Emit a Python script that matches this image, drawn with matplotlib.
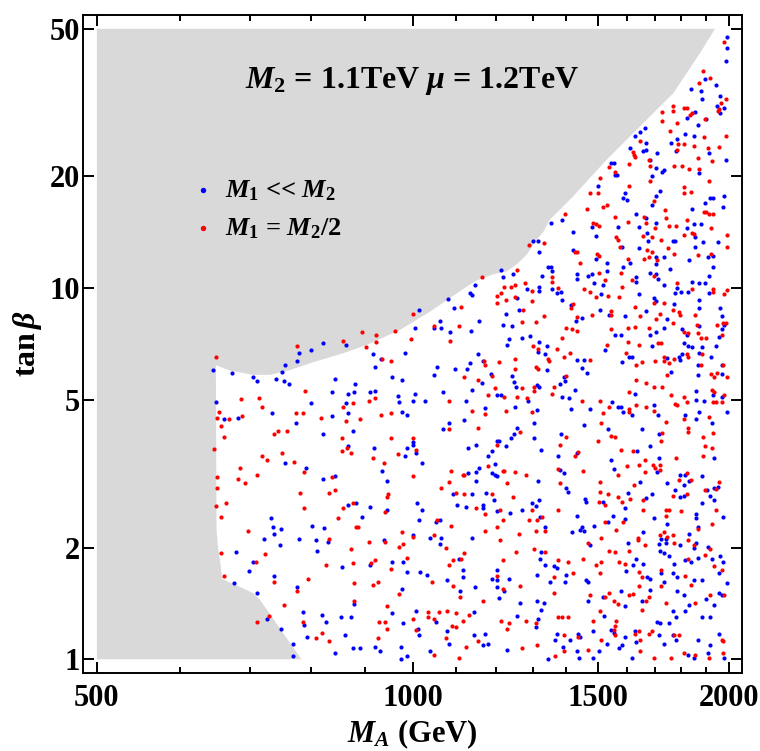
import matplotlib
matplotlib.use("Agg")
import matplotlib.pyplot as plt

plt.rcParams['font.family'] = ['Liberation Serif', 'DejaVu Serif']
plt.rcParams['font.weight'] = 'bold'
plt.rcParams['mathtext.fontset'] = 'custom'
plt.rcParams['mathtext.rm'] = 'Liberation Serif:bold'
plt.rcParams['mathtext.it'] = 'Liberation Serif:italic:bold'
plt.rcParams['mathtext.bf'] = 'Liberation Serif:bold'

# edge of the excluded (grey) region, from tanb=1 up to tanb=50
edge_MA = [783, 752, 726, 715, 704, 684, 658, 655, 652, 650, 649, 650, 669, 704, 731,
           764, 798, 858, 903, 972, 1038, 1084, 1125, 1150, 1192, 1228, 1255, 1283,
           1311, 1331, 1350, 1421, 1529, 1645, 1769, 1876, 1939]
edge_tanb = [1.0, 1.177, 1.358, 1.445, 1.509, 1.567, 1.646, 1.852, 2.008, 2.23, 6.21,
             6.19, 6.0, 5.84, 5.84, 6.02, 6.28, 6.68, 7.03, 7.72, 8.65, 9.40, 10.1, 10.5,
             10.9, 11.1, 11.6, 12.3, 13.5, 14.2, 15.3, 17.7, 22.2, 27.3, 33.5, 43.0, 50.0]

# scan points (M_A in GeV, tan beta), M1 << M2
blue_pts = [
    (1992, 47.4), (1992, 44.4), (1986, 41.0), (1895, 36.7), (1839, 34.5), (1879, 33.9), (1943, 35.2),
    (1884, 32.3), (1961, 32.9), (1949, 31.0), (1961, 29.6), (1978, 30.6), (1857, 29.9), (1822, 28.7),
    (1901, 28.6), (1868, 27.5), (1662, 27.0), (1646, 26.3), (1628, 25.7), (1667, 24.6), (1817, 26.1),
    (1850, 25.7), (1783, 25.3), (1760, 24.6), (1781, 23.5), (1610, 23.9), (1657, 23.4), (1668, 23.6),
    (1708, 23.1), (1915, 23.1), (1984, 22.2), (1733, 20.8), (1728, 20.6), (1703, 21.1), (1543, 21.8),
    (1553, 21.8), (1558, 20.2), (1564, 20.2), (1688, 20.0), (1681, 22.2), (1872, 20.5), (1500, 18.9),
    (1592, 18.0), (1586, 17.5), (1597, 17.3), (1720, 18.3), (1704, 17.7), (1687, 16.8), (1917, 17.5),
    (1932, 17.5), (1895, 17.0), (1978, 17.7), (1971, 16.5), (1843, 16.3), (1631, 15.8), (1668, 15.5),
    (1704, 15.0), (1850, 14.9), (1879, 14.9), (1353, 15.0), (1386, 15.3),
    (1300, 13.4), (1316, 13.4), (1319, 12.5), (1214, 11.2), (1219, 10.7), (1245, 10.9), (1146, 10.2),
    (1132, 9.68), (1139, 9.58), (1079, 9.38), (1094, 8.82), (1014, 8.74), (1226, 8.5), (1156, 8.17),
    (1062, 8.17), (1261, 8.74), (1255, 9.43), (1284, 9.98), (1319, 10.1), (1319, 9.8), (1219, 7.96),
    (1241, 7.9), (1005, 7.8), (1048, 7.8), (1064, 7.8), (1084, 7.6), (1136, 7.67), (1269, 7.36),
    (1292, 7.42), (1319, 7.17), (1233, 7.28), (1229, 7.05), (1316, 6.75), (983, 6.68), (1153, 6.63),
    (1165, 6.38), (1132, 6.28), (1126, 6.07), (1097, 6.07), (1055, 6.13), (1186, 5.88), (1164, 5.56),
    (1139, 5.33), (1048, 5.83), (976, 5.66), (1243, 5.81), (1247, 5.58), (1252, 5.42), (1319, 5.42),
    (1312, 5.48), (1201, 5.14), (1212, 5.14), (1288, 4.97), (1251, 4.78), (1312, 4.71), (1304, 4.33),
    (1171, 4.76), (1068, 5.24), (1124, 4.96), (1118, 4.41), (1081, 4.33), (1068, 4.17), (1004, 5.18),
    (1001, 4.97), (1027, 4.97), (977, 4.64), (986, 4.55), (1257, 4.20), (1239, 3.94), (1247, 4.04),
    (1305, 3.94),
    (1420, 14.2), (1479, 14.6), (1568, 14.6), (1641, 14.6), (1822, 14.5), (1951, 13.3), (1890, 13.3),
    (1854, 13.7), (1854, 12.9), (1777, 13.4), (1767, 13.4), (1670, 14.1), (1673, 13.4), (1582, 12.9),
    (1493, 13.8), (1421, 12.7), (1493, 12.0), (1529, 11.7), (1610, 11.7), (1642, 12.8), (1704, 12.1),
    (1703, 11.6), (1735, 12.1), (1757, 11.3), (1682, 11.0), (1704, 10.9), (1711, 10.6), (1631, 10.7),
    (1631, 10.4), (1586, 11.4), (1529, 11.1), (1479, 10.9), (1469, 10.8), (1488, 10.3), (1516, 10.2),
    (1433, 10.9), (1434, 10.6), (1343, 11.4), (1353, 11.4), (1357, 11.1), (1328, 10.8), (1357, 9.96),
    (1370, 9.68), (1383, 9.76), (1387, 9.3), (1511, 9.62), (1641, 9.62), (1697, 9.39), (1704, 9.21),
    (1735, 10.2), (1783, 10.0), (1800, 9.76), (1827, 9.76), (1777, 9.68), (1873, 10.3), (1895, 10.3),
    (1845, 10.4), (1915, 9.68), (1914, 10.8), (1873, 9.30), (1773, 9.06), (1746, 8.25), (1667, 8.69),
    (1591, 8.39), (1538, 8.49), (1507, 8.76), (1413, 8.99), (1430, 8.17), (1447, 8.32), (1341, 6.99),
    (1337, 6.64), (1341, 6.02), (1434, 6.4), (1455, 6.4), (1447, 6.08), (1465, 5.9), (1391, 5.76),
    (1396, 5.61), (1379, 5.52), (1425, 5.33), (1387, 5.1), (1408, 5.06), (1413, 4.72), (1474, 4.72),
    (1548, 4.94), (1567, 4.77), (1576, 4.77), (1586, 4.63), (1617, 4.55), (1627, 5.19), (1606, 6.51),
    (1616, 6.51), (1582, 6.34), (1523, 6.8), (1558, 7.47), (1578, 7.47), (1682, 7.47), (1704, 7.62),
    (1735, 7.8), (1687, 6.99), (1805, 7.74), (1822, 7.47), (1811, 7.1), (1827, 6.99), (1873, 7.89),
    (1873, 8.82), (1961, 8.82), (1967, 8.39), (1978, 7.96), (1967, 7.75), (1956, 7.41), (1943, 6.99),
    (1886, 6.94), (1873, 6.67), (1921, 6.51), (1868, 6.22), (1967, 6.19), (1967, 5.87), (1868, 5.83),
    (1843, 6.94), (1805, 6.64), (1790, 6.51), (1795, 6.4), (1761, 5.96), (1745, 6.49), (1861, 5.28),
    (1861, 5.01), (1891, 4.98), (1931, 5.14), (1967, 5.1), (1992, 4.63), (1695, 4.85), (1711, 4.54),
    (1652, 4.17), (1714, 4.05), (1817, 4.55), (1861, 4.44), (1873, 4.63), (1926, 4.34), (1383, 4.04),
    (1456, 4.29), (1535, 4.17), (1908, 12.1), (1929, 12.2), (1930, 11.4), (1832, 11.9),
    (820, 7.1), (863, 7.04), (800, 6.82), (778, 6.68), (916, 6.64), (932, 6.45), (776, 6.38),
    (919, 6.14), (645, 6.02), (673, 5.92), (756, 6.19), (750, 5.96), (704, 5.76), (711, 5.62),
    (741, 5.71), (754, 5.62), (762, 5.53), (843, 5.71), (880, 5.53), (837, 5.24), (867, 5.19),
    (878, 5.24), (910, 5.24), (919, 5.28), (955, 5.76), (968, 5.11), (970, 4.94), (649, 4.94),
    (661, 4.44), (682, 4.48), (734, 4.6), (799, 4.9), (863, 4.9), (837, 4.52), (867, 4.6),
    (774, 4.34), (876, 4.13), (820, 4.05), (868, 3.76), (918, 3.71), (756, 3.37), (790, 3.28),
    (843, 3.12), (820, 3.06), (935, 3.22), (944, 3.03), (944, 2.53), (732, 2.4), (735, 2.27),
    (749, 2.25), (738, 2.18), (721, 2.11), (747, 2.03), (802, 2.29), (823, 2.26), (867, 2.61),
    (882, 2.63), (909, 2.57), (894, 2.42), (778, 2.11), (808, 2.09), (830, 2.07), (811, 1.96),
    (939, 2.09), (678, 1.95), (704, 1.83), (698, 1.73), (737, 1.68), (675, 1.61), (855, 1.77),
    (910, 1.80), (955, 1.83), (776, 1.57), (711, 1.51), (726, 1.28), (748, 1.21), (769, 1.10),
    (769, 1.02), (785, 1.34), (787, 1.24), (792, 1.15), (819, 1.32), (827, 1.26), (843, 1.04),
    (853, 1.30), (861, 1.16), (873, 1.30), (879, 1.41), (876, 1.07), (891, 1.07), (955, 1.33),
    (919, 1.08), (930, 1.05),
    (1001, 3.85), (1001, 3.78), (986, 3.71), (982, 3.54), (1007, 3.60), (1019, 3.39), (1129, 3.71),
    (1149, 3.79), (1201, 3.88), (1207, 3.88), (1227, 3.76), (1325, 3.67), (1375, 3.54), (1189, 3.64),
    (1178, 3.52), (1196, 3.36), (1156, 3.28), (1147, 3.2), (1129, 3.17), (1189, 3.17), (1196, 3.14),
    (1203, 3.12), (1148, 3.03), (1314, 3.03), (1379, 3.23), (1391, 3.17), (1400, 2.9), (1404, 2.82),
    (1091, 2.78), (1139, 2.78), (1174, 2.8), (1193, 2.68), (1102, 2.61), (1124, 2.57), (1166, 2.61),
    (1166, 2.55), (1203, 2.51), (1236, 2.48), (1271, 2.53), (1297, 2.63), (1309, 2.59), (1318, 2.68),
    (1008, 2.63), (1019, 2.53), (1013, 2.38), (1052, 2.34), (1062, 2.38), (1320, 2.42), (1337, 2.27),
    (1038, 2.12), (1064, 2.12), (1000, 2.16), (1061, 2.05), (1138, 2.12), (1105, 1.86), (979, 1.83),
    (986, 1.72), (1016, 1.72), (1032, 1.69), (977, 1.55), (1115, 1.74), (1115, 1.67), (1078, 1.64),
    (1108, 1.53), (1146, 1.57), (1189, 1.65), (1201, 1.64), (1203, 1.74), (1233, 1.65), (1201, 1.57),
    (1222, 1.53), (1207, 1.46), (1320, 1.86), (1337, 1.80), (1362, 1.78), (1370, 1.76), (1400, 1.69),
    (1395, 1.62), (1349, 1.62), (1312, 1.69), (1325, 1.36), (1311, 1.44), (1332, 1.42), (1316, 1.28),
    (1309, 1.22), (1257, 1.31), (1265, 1.42), (1371, 1.17), (1366, 1.13), (1389, 1.08), (1345, 1.0),
    (1228, 1.06), (1178, 1.10), (1166, 1.09), (1171, 1.17), (1143, 1.16), (1081, 1.10), (1078, 1.19),
    (1143, 1.34), (1052, 1.26), (1006, 1.35), (979, 1.25), (1010, 1.21), (1013, 1.16), (1038, 1.05),
    (975, 1.08), (986, 1.02), (975, 1.0), (1325, 1.95),
    (1682, 3.76), (1936, 3.48), (1635, 3.64), (1433, 3.59), (1543, 3.45), (1713, 3.48), (1708, 3.20),
    (1552, 3.25), (1645, 3.0), (1794, 3.14), (1817, 3.14), (1833, 3.03), (1886, 3.12), (1811, 2.95),
    (1746, 2.98), (1777, 2.85), (1811, 2.75), (1794, 2.73), (1950, 2.92), (1935, 2.90), (1904, 2.85),
    (1919, 2.75), (1936, 2.68), (1886, 2.63), (1971, 2.42), (1861, 2.46), (1861, 2.40), (1868, 2.27),
    (1687, 2.78), (1668, 2.72), (1592, 2.55), (1601, 2.80), (1516, 2.66), (1457, 2.71), (1461, 2.66),
    (1434, 2.44), (1488, 2.29), (1447, 2.27), (1443, 2.23), (1456, 2.22), (1417, 2.20), (1535, 2.35),
    (1549, 2.44), (1592, 2.39), (1695, 2.40), (1746, 2.31), (1475, 2.03), (1657, 2.20), (1601, 2.06),
    (1724, 2.11), (1740, 2.11), (1740, 2.06), (1713, 2.05), (1794, 2.03), (1833, 2.17), (1861, 2.06),
    (1850, 2.00), (1908, 2.01), (1631, 1.86), (1620, 1.80), (1657, 1.81), (1595, 1.73), (1719, 1.96),
    (1735, 1.93), (1751, 1.90), (1772, 1.81), (1724, 1.71), (1767, 1.71), (1785, 1.67), (1817, 1.85),
    (1839, 1.83), (1868, 1.88), (1926, 1.86), (1961, 1.90), (1971, 1.83), (1956, 1.71), (1885, 1.64),
    (1850, 1.64), (1992, 1.61), (1461, 1.64), (1469, 1.62), (1672, 1.67), (1682, 1.65), (1735, 1.62),
    (1682, 1.54), (1785, 1.53), (1811, 1.49), (1833, 1.40), (1902, 1.45), (1956, 1.51), (1967, 1.49),
    (1936, 1.40), (1816, 1.35), (1767, 1.35), (1779, 1.30), (1885, 1.30), (1919, 1.30), (1651, 1.44),
    (1593, 1.39), (1578, 1.53), (1516, 1.47), (1469, 1.44), (1520, 1.31), (1543, 1.20), (1553, 1.18),
    (1483, 1.19), (1435, 1.17), (1443, 1.15), (1412, 1.13), (1529, 1.10), (1434, 1.05), (1502, 1.05),
    (1438, 1.01), (1484, 1.01), (1592, 1.15), (1572, 1.07), (1582, 1.09), (1627, 1.19), (1631, 1.11),
    (1616, 1.01), (1708, 1.26), (1719, 1.25), (1751, 1.25), (1713, 1.16), (1735, 1.10), (1767, 1.16),
    (1779, 1.13), (1827, 1.03), (1850, 1.01), (1866, 1.13), (1908, 1.04), (1919, 1.09), (1978, 1.01),
    (1956, 1.17),
]

# scan points, M1 = M2/2
red_pts = [
    (1978, 46.1), (1890, 38.4), (1919, 36.9), (1873, 35.8), (1986, 32.3), (1963, 31.5), (1956, 30.4),
    (1953, 30.1), (1767, 31.0), (1767, 30.1), (1726, 29.9), (1811, 30.6), (1822, 30.6), (1834, 29.3),
    (1845, 29.6), (1897, 28.5), (1726, 28.2), (1783, 27.8), (1757, 26.6), (1891, 25.5), (1984, 25.7),
    (1645, 25.0), (1620, 23.3), (1624, 22.9), (1628, 22.6), (1676, 22.2), (1682, 21.4), (1606, 21.6),
    (1811, 24.4), (1786, 24.4), (1850, 24.2), (1908, 23.8), (1954, 24.0), (1785, 23.6), (1868, 22.4),
    (1926, 22.0), (1772, 21.4), (1804, 21.4), (1832, 20.9), (1873, 20.9), (1537, 21.2), (1558, 20.6),
    (1682, 19.4), (1507, 19.8), (1606, 18.9), (1915, 19.4), (1811, 18.7), (1810, 18.0), (1840, 18.2),
    (1697, 17.2), (1475, 18.0), (1499, 18.0), (1529, 16.8), (1516, 16.5), (1465, 16.3), (1739, 16.2),
    (1892, 16.0), (1899, 16.0), (1915, 15.8), (1932, 15.8), (1396, 15.8), (1558, 15.6), (1601, 15.1),
    (1660, 15.6), (1665, 15.0), (1741, 15.5), (1822, 15.3), (1483, 15.0), (1492, 14.9), (1504, 14.7),
    (1751, 14.7), (1781, 14.7),
    (1290, 13.1), (1257, 11.2), (1164, 10.7), (1222, 10.1), (1239, 10.1), (1250, 10.2), (1277, 10.3),
    (1297, 9.85), (1201, 9.5), (1212, 9.68), (1201, 9.12), (1226, 9.28), (1251, 9.46), (1297, 9.23),
    (1272, 8.74), (1112, 8.91), (1000, 8.5), (995, 7.3), (1048, 7.9), (1107, 7.9), (1084, 7.21),
    (1269, 8.1), (1309, 8.1), (1300, 6.99), (1316, 6.86), (1251, 6.45), (1168, 6.38), (1171, 6.2),
    (1208, 6.34), (1251, 6.07), (1309, 6.13), (1316, 6.07), (1153, 5.67), (1189, 5.81), (1118, 5.76),
    (1196, 5.37), (1269, 5.37), (1304, 5.42), (1304, 5.28), (1178, 5.14), (1220, 5.09), (1257, 5.09),
    (1284, 5.06), (1081, 4.97), (1139, 4.68), (1171, 4.59), (1226, 4.68), (1297, 4.64), (1153, 4.21),
    (1081, 4.17), (1264, 4.10), (1000, 3.94),
    (1699, 14.5), (1845, 14.1), (1850, 14.0), (1921, 14.5), (1992, 13.9), (1992, 12.9), (1810, 13.9),
    (1868, 12.3), (1921, 12.4), (1772, 12.4), (1750, 12.8), (1724, 13.5), (1657, 13.8), (1687, 13.7),
    (1560, 13.7), (1568, 13.5), (1574, 12.9), (1332, 13.2), (1427, 12.5), (1433, 12.5), (1497, 12.4),
    (1503, 12.2), (1443, 11.7), (1601, 12.0), (1671, 12.7), (1687, 12.5), (1659, 12.0), (1678, 12.1),
    (1708, 11.9), (1695, 10.8), (1617, 10.5), (1578, 11.0), (1523, 10.5), (1503, 11.0), (1582, 10.1),
    (1357, 10.7), (1357, 10.4), (1375, 10.0), (1455, 9.96), (1474, 9.77), (1493, 9.47), (1535, 9.55),
    (1571, 9.47), (1695, 9.13), (1735, 9.13), (1783, 10.3), (1845, 9.96), (1931, 9.96), (1931, 9.78),
    (1978, 9.62), (1992, 9.89), (1767, 8.76), (1790, 8.63), (1795, 8.49), (1704, 8.25), (1720, 8.53),
    (1646, 8.39), (1627, 8.91), (1543, 8.69), (1543, 8.49), (1479, 8.49), (1421, 9.06), (1413, 8.84),
    (1333, 8.39), (1434, 8.37), (1400, 7.8), (1417, 7.75), (1434, 7.67), (1387, 7.36), (1371, 6.86),
    (1343, 6.45), (1347, 6.35), (1391, 6.51), (1412, 6.67), (1474, 6.4), (1400, 5.81), (1362, 5.43),
    (1357, 5.19), (1447, 4.98), (1507, 4.98), (1538, 4.77), (1606, 4.72), (1606, 4.63), (1631, 4.85),
    (1606, 5.24), (1631, 5.67), (1631, 6.19), (1595, 6.67), (1652, 6.34), (1529, 7.04), (1543, 7.74),
    (1601, 7.15), (1641, 7.04), (1678, 7.8), (1627, 7.86), (1601, 7.8), (1710, 7.1), (1724, 7.1),
    (1767, 8.08), (1811, 7.62), (1827, 7.56), (1857, 8.49), (1862, 7.96), (1868, 7.56), (1879, 7.36),
    (1902, 7.36), (1971, 8.08), (1984, 8.08), (1946, 7.96), (1967, 7.47), (1886, 6.64), (1881, 6.19),
    (1921, 5.87), (1936, 5.77), (1949, 5.9), (1971, 6.22), (1992, 5.76), (1823, 6.64), (1827, 6.51),
    (1772, 6.45), (1746, 5.83), (1735, 6.51), (1735, 6.35), (1751, 6.28), (1699, 6.35), (1667, 5.56),
    (1697, 5.43), (1726, 5.43), (1761, 5.15), (1777, 4.88), (1783, 4.85), (1811, 5.1), (1822, 4.94),
    (1926, 5.33), (1936, 5.24), (1978, 5.14), (1931, 4.94), (1943, 4.94), (1967, 4.94), (1697, 4.67),
    (1667, 4.77), (1740, 4.37), (1726, 4.07), (1827, 4.21), (1827, 4.10), (1811, 4.44), (1915, 4.49),
    (1931, 4.07), (1890, 3.97), (1400, 3.97), (1511, 4.34), (1516, 4.6), (1543, 4.0), (1558, 3.97),
    (894, 7.62), (922, 7.5), (962, 7.67), (776, 6.99), (857, 7.21), (903, 6.94), (922, 7.15),
    (934, 6.45), (952, 6.35), (649, 6.51), (789, 5.28), (713, 5.06), (686, 5.02), (653, 4.64),
    (651, 4.48), (668, 4.44), (688, 4.52), (718, 4.77), (774, 4.6), (786, 4.6), (857, 4.77),
    (876, 4.9), (908, 4.98), (921, 5.06), (817, 4.48), (863, 4.4), (891, 4.44), (933, 4.55),
    (953, 4.6), (657, 4.25), (660, 3.96), (738, 4.05), (743, 4.12), (759, 4.12), (855, 3.94),
    (953, 3.94), (866, 3.71), (856, 3.65), (873, 3.6), (916, 3.48), (968, 3.57), (646, 3.68),
    (718, 3.52), (726, 3.45), (750, 3.6), (771, 3.4), (787, 3.2), (684, 3.28), (651, 3.09),
    (682, 3.06), (711, 3.14), (692, 2.98), (651, 2.9), (838, 3.09), (843, 2.85), (831, 2.8),
    (780, 2.8), (938, 3.37), (946, 2.78), (944, 2.73), (941, 2.5), (649, 2.59), (664, 2.63),
    (657, 2.42), (697, 2.22), (787, 2.55), (849, 2.4), (857, 2.55), (877, 2.63), (882, 2.27),
    (886, 2.27), (831, 2.11), (907, 2.07), (941, 2.07), (969, 2.01), (873, 1.98), (657, 1.93),
    (723, 1.92), (708, 1.83), (660, 1.68), (738, 1.62), (826, 1.80), (876, 1.82), (911, 1.82),
    (919, 1.85), (953, 1.75), (794, 1.65), (776, 1.53), (878, 1.61), (916, 1.59), (926, 1.62),
    (969, 1.50), (754, 1.40), (729, 1.31), (711, 1.26), (785, 1.26), (808, 1.14), (819, 1.18),
    (832, 1.12), (879, 1.44), (944, 1.39), (929, 1.26), (941, 1.26), (944, 1.21), (926, 1.14),
    (1006, 3.67), (999, 3.12), (1201, 3.79), (1379, 3.79), (1178, 3.31), (1115, 3.14), (1119, 3.14),
    (1087, 3.22), (1217, 3.22), (1221, 3.22), (1250, 3.2), (1282, 3.14), (1228, 2.98), (1081, 3.0),
    (1064, 2.9), (1375, 3.25), (1379, 2.98), (1098, 2.8), (1119, 2.78), (1189, 2.78), (1245, 2.73),
    (1147, 2.55), (1171, 2.46), (1209, 2.53), (1297, 2.53), (1375, 2.53), (1055, 2.38), (1087, 2.29),
    (1290, 2.38), (1311, 2.38), (1327, 2.42), (1337, 2.22), (1309, 2.22), (1261, 2.18), (1201, 2.27),
    (1171, 2.22), (1217, 2.38), (1048, 2.16), (1000, 2.14), (976, 2.2), (979, 2.05), (1074, 2.0),
    (1209, 2.09), (1119, 1.93), (1111, 1.86), (1091, 1.85), (1081, 1.80), (986, 1.88), (1042, 1.62),
    (1091, 1.58), (1108, 1.47), (1203, 1.68), (1217, 1.85), (1217, 1.55), (1265, 1.58), (1252, 1.95),
    (1375, 1.85), (1404, 1.83), (1362, 1.67), (1362, 1.51), (1374, 1.30), (1387, 1.30), (1404, 1.30),
    (1309, 1.25), (1282, 1.27), (1233, 1.25), (1214, 1.27), (1228, 1.21), (1391, 1.16), (1391, 1.05),
    (1366, 1.02), (1312, 1.09), (1269, 1.07), (1153, 1.12), (1122, 1.08), (1105, 1.01), (1074, 1.14),
    (1090, 1.23), (1098, 1.22), (1115, 1.27), (1131, 1.32), (1098, 1.33), (1078, 1.35), (1058, 1.34),
    (1033, 1.34), (1033, 1.30), (1048, 1.28), (999, 1.28), (1006, 1.20), (1048, 1.03), (1165, 1.44),
    (1304, 1.98), (1337, 1.95),
    (1499, 3.88), (1724, 3.88), (1895, 3.76), (1926, 3.71), (1890, 3.54), (1576, 3.67), (1620, 3.64),
    (1437, 3.63), (1425, 3.52), (1662, 3.45), (1779, 3.48), (1600, 3.31), (1641, 3.33), (1694, 3.33),
    (1698, 3.28), (1719, 3.33), (1719, 3.23), (1662, 3.20), (1566, 3.14), (1452, 3.22), (1507, 3.0),
    (1624, 2.95), (1822, 3.17), (1790, 3.05), (1839, 3.05), (1822, 2.78), (1767, 2.75), (1956, 3.0),
    (1943, 2.88), (1897, 2.85), (1943, 2.53), (1926, 2.31), (1868, 2.25), (1799, 2.51), (1657, 2.68),
    (1657, 2.53), (1610, 2.71), (1582, 2.66), (1567, 2.73), (1535, 2.78), (1523, 2.61), (1503, 2.66),
    (1507, 2.83), (1524, 2.35), (1586, 2.35), (1741, 2.44), (1752, 2.53), (1741, 2.53), (1562, 2.23),
    (1511, 2.12), (1469, 2.06), (1636, 2.12), (1636, 2.09), (1662, 2.03), (1719, 2.16), (1735, 2.20),
    (1746, 2.14), (1767, 2.16), (1773, 2.06), (1827, 2.09), (1850, 2.03), (1919, 1.98), (1538, 1.96),
    (1558, 1.95), (1606, 1.96), (1452, 1.86), (1511, 1.83), (1493, 1.80), (1572, 1.83), (1592, 1.81),
    (1641, 1.72), (1651, 1.67), (1507, 1.71), (1421, 1.71), (1724, 1.74), (1817, 1.68), (1829, 1.86),
    (1897, 1.91), (1936, 1.78), (1967, 1.74), (1838, 1.59), (1641, 1.58), (1723, 1.58), (1740, 1.42),
    (1854, 1.42), (1919, 1.49), (1978, 1.49), (1678, 1.47), (1667, 1.44), (1652, 1.36), (1567, 1.41),
    (1552, 1.44), (1606, 1.49), (1620, 1.50), (1523, 1.47), (1538, 1.51), (1475, 1.49), (1507, 1.35),
    (1485, 1.27), (1562, 1.27), (1558, 1.23), (1553, 1.20), (1558, 1.16), (1435, 1.15), (1511, 1.13),
    (1469, 1.06), (1627, 1.17), (1641, 1.19), (1646, 1.13), (1646, 1.05), (1678, 1.17), (1687, 1.19),
    (1695, 1.01), (1761, 1.01), (1772, 1.16), (1790, 1.16), (1811, 1.04), (1854, 1.03), (1914, 1.01),
    (1971, 1.04), (1967, 1.13), (1971, 1.12),
]

x_ticks = [500, 1000, 1500, 2000]
x_minor = [600, 700, 800, 900, 1100, 1200, 1300, 1400, 1600, 1700, 1800, 1900]
y_ticks = [1, 2, 5, 10, 20, 50]

blue_MA = [p[0] for p in blue_pts]
blue_tanb = [p[1] for p in blue_pts]
red_MA = [p[0] for p in red_pts]
red_tanb = [p[1] for p in red_pts]

fig = plt.figure(figsize=(7.6, 7.51), dpi=100)
ax = fig.add_axes([0.1092, 0.1039, 0.8671, 0.8762])
ax.set_xscale('log')
ax.set_yscale('log')

# grey excluded region
ax.fill([500] + edge_MA + [500], [1] + edge_tanb + [50], color='#d9d9d9', lw=0, zorder=0)

ax.scatter(blue_MA, blue_tanb, s=9, c='#0000ff', linewidths=0, zorder=2,
           label=r'$M_1$ << $M_2$')
ax.scatter(red_MA, red_tanb, s=9, c='#ff0000', linewidths=0, zorder=2,
           label=r'$M_1$ = $M_2$/2')

ax.set_xlim(485, 2057)
ax.set_ylim(0.9185, 54.5)

ax.set_xticks(x_ticks, labels=[str(v) for v in x_ticks])
ax.set_xticks(x_minor, labels=['' for v in x_minor], minor=True)
ax.set_yticks(y_ticks, labels=[str(v) for v in y_ticks])
ax.set_yticks([], minor=True)

ax.tick_params(which='both', direction='in', top=True, right=True, width=1.4, labelsize=22)
ax.tick_params(which='major', length=8)
ax.tick_params(which='minor', length=4)
ax.tick_params(axis='x', pad=8)
ax.tick_params(axis='y', pad=2)
for s in ax.spines.values():
    s.set_linewidth(1.4)

ax.set_xlabel(r'$M_A$ (GeV)', fontsize=22, fontweight='bold', labelpad=3)
ax.set_ylabel(r'$\tan\beta$', fontsize=23, fontweight='bold', labelpad=4)

ax.text(0.5, 0.9, r'$M_2$ = 1.1TeV $\mu$ = 1.2TeV', transform=ax.transAxes,
        ha='center', va='center', fontsize=23, fontweight='bold')

ax.legend(loc='center left', bbox_to_anchor=(0.1707, 0.7044), frameon=False,
          fontsize=19, scatterpoints=1, markerscale=1.3, handlelength=0.6,
          handletextpad=0.5, borderpad=0, borderaxespad=0, labelspacing=0.5)

fig.savefig('out.png', dpi=100)
